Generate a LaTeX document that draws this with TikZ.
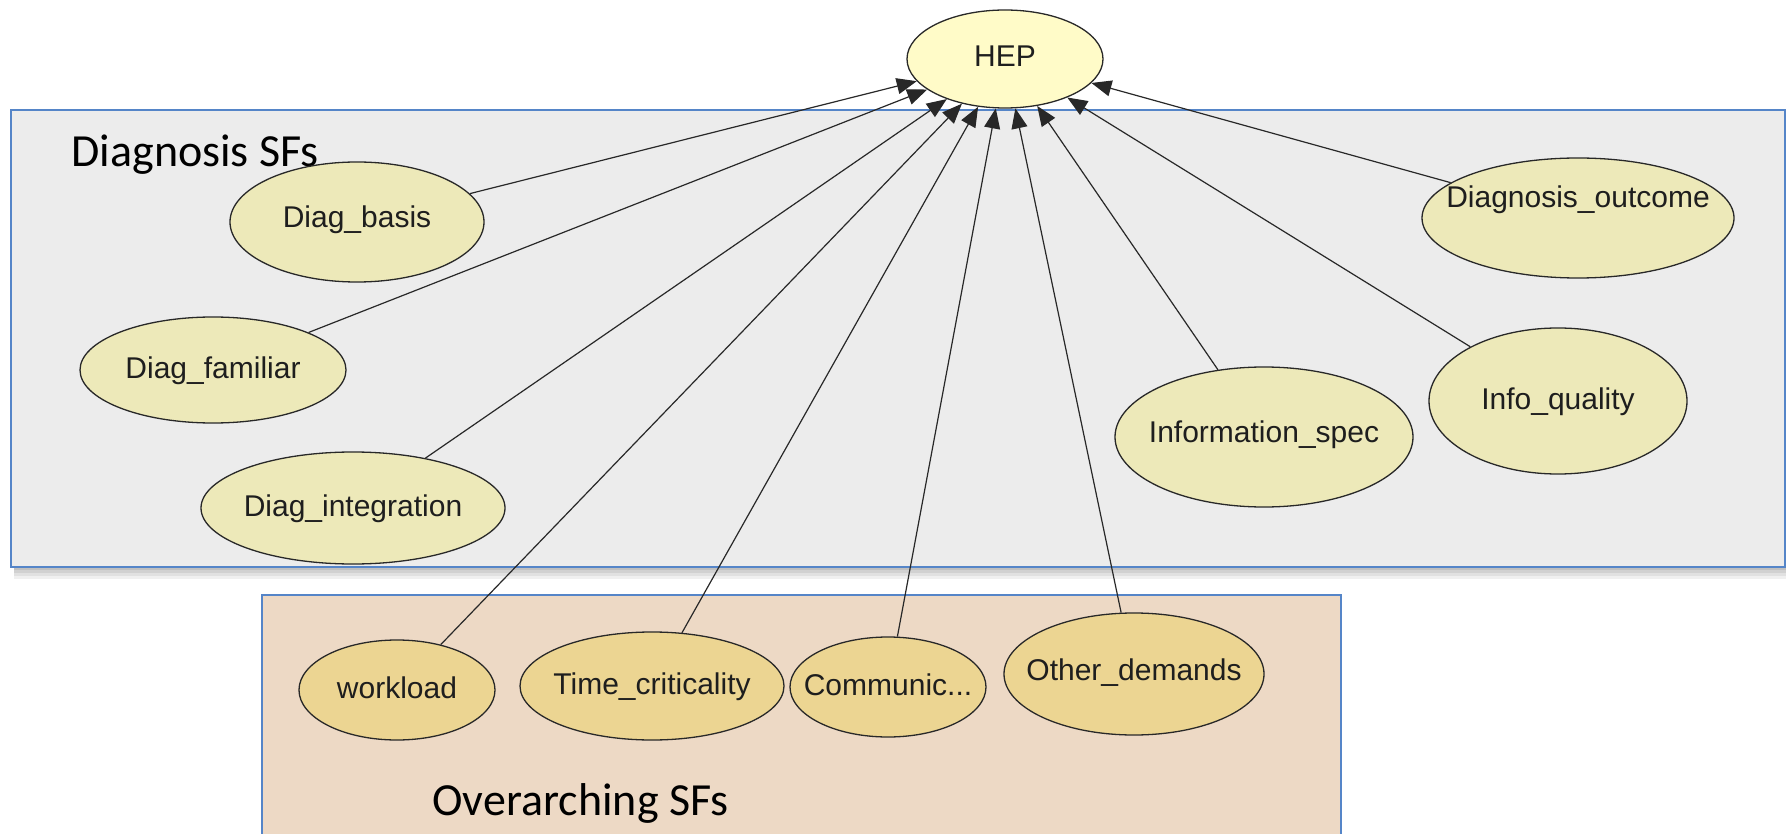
\documentclass[tikz,border=0pt]{standalone}
\usepackage{fontspec}
\setmainfont{Liberation Sans}
\newfontfamily\titlefont{Carlito}
\usetikzlibrary{shapes.geometric,arrows.meta}

\definecolor{hepfill}{RGB}{255,251,200}
\definecolor{diagfill}{RGB}{237,233,185}
\definecolor{overfill}{RGB}{236,213,146}
\definecolor{diagbg}{RGB}{236,236,236}
\definecolor{overbg}{RGB}{237,217,197}
\definecolor{frameblue}{RGB}{85,133,200}
\definecolor{edgegray}{RGB}{40,40,40}
\definecolor{txtgray}{RGB}{30,30,30}

% text is set in a zero-width box so the ellipse keeps its given size
\newcommand{\nodetext}[1]{\makebox[0pt][c]{#1}}

\tikzset{
  bnnode/.style={ellipse, draw=edgegray, line width=1.3pt, inner sep=0pt,
    text=txtgray, font=\fontsize{30}{36}\selectfont,
    text height=22pt, text depth=6pt},
  diagnode/.style={bnnode, fill=diagfill},
  overnode/.style={bnnode, fill=overfill},
  topnode/.style={bnnode, fill=hepfill},
  link/.style={draw=edgegray, line width=1.2pt,
    -{Triangle[length=20pt,width=16pt]}},
  group/.style={draw=frameblue, line width=1.4pt},
  grouptitle/.style={anchor=base west, text=black,
    font=\titlefont\fontsize{46}{54}\selectfont}
}

\begin{document}
\begin{tikzpicture}[x=1pt,y=-1pt]
  \useasboundingbox[fill=white] (0,0) rectangle (1786,834);

  % soft shadow under the diagnosis frame
  \foreach \d/\op in {12/0.06,9/0.06,6/0.07,3/0.08}
    \fill[black, opacity=\op] (14,112) rectangle (1786,567+\d);

  % group frames
  \path[group, fill=diagbg] (11,110) rectangle (1785,567);
  \path[group, fill=overbg] (262,595) rectangle (1341,840);

  \node[grouptitle] (tdiag) at (68,167) {Diagnosis SFs};
  \node[grouptitle] (tover) at (429,815) {Overarching SFs};

  % nodes
  \node[topnode,  minimum width=196pt, minimum height=98pt]  (hep) at (1005,59) {\nodetext{HEP}};

  \node[diagnode, minimum width=254pt, minimum height=120pt, text depth=10pt] (db) at (357,222) {\nodetext{Diag\_basis}};
  \node[diagnode, minimum width=266pt, minimum height=106pt] (df) at (213,370) {\nodetext{Diag\_familiar}};
  \node[diagnode, minimum width=304pt, minimum height=112pt] (di) at (353,508) {\nodetext{Diag\_integration}};
  \node[diagnode, minimum width=312pt, minimum height=120pt, text depth=42pt] (do) at (1578,218) {\nodetext{Diagnosis\_outcome}};
  \node[diagnode, minimum width=258pt, minimum height=146pt] (iq) at (1558,401) {\nodetext{Info\_quality}};
  \node[diagnode, minimum width=298pt, minimum height=140pt, text depth=12pt] (is) at (1264,437) {\nodetext{Information\_spec}};

  \node[overnode, minimum width=196pt, minimum height=100pt] (wl) at (397,690) {\nodetext{workload}};
  \node[overnode, minimum width=264pt, minimum height=108pt] (tc) at (652,686) {\nodetext{Time\_criticality}};
  \node[overnode, minimum width=196pt, minimum height=100pt] (cm) at (888,687) {\nodetext{Communic...}};
  \node[overnode, minimum width=260pt, minimum height=122pt, text depth=10pt] (od) at (1134,674) {\nodetext{Other\_demands}};

  % dependencies into HEP
  \foreach \src in {db,df,di,do,iq,is,wl,tc,cm,od}
    \draw[link] (\src) -- (hep);
\end{tikzpicture}
\end{document}
